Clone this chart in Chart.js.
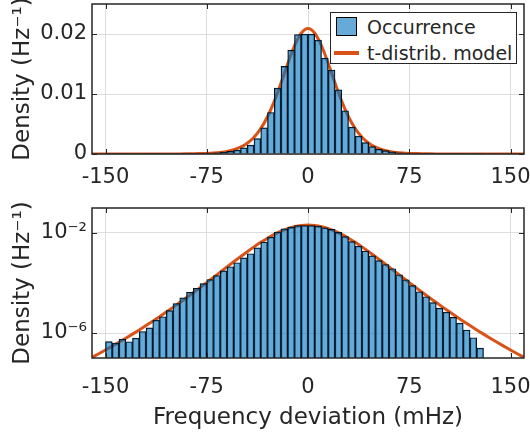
<!DOCTYPE html>
<html>
<head>
<meta charset="utf-8">
<script src="https://cdn.jsdelivr.net/npm/chart.js@4.4.1/dist/chart.umd.min.js"></script>
<style>
  body { margin: 0; background: #fff; width: 530px; height: 435px; position: relative; overflow: hidden; font-family: "DejaVu Sans"; }
  canvas { position: absolute; left: 0; }
  #topChart { top: 0; }
  #botChart { top: 195px; }
  #legend { position: absolute; left: 330px; top: 12px; width: 187px; height: 52px; box-sizing: border-box;
            border: 1px solid #262626; background: #fff; font: 19px "DejaVu Sans"; color: #262626; }
  #legend .patch { position: absolute; left: 5px; top: 4px; width: 21px; height: 19px; box-sizing: border-box;
                   background: rgba(0,114,189,0.6); border: 1px solid #000; }
  #legend .swatch { position: absolute; left: 3px; top: 38px; width: 25px; height: 3.5px; background: #d95319; }
  #legend span { position: absolute; left: 36px; line-height: 22px; white-space: nowrap; }
</style>
</head>
<body>
<canvas id="topChart" width="530" height="195"></canvas>
<canvas id="botChart" width="530" height="240"></canvas>
<div id="legend">
  <div class="patch"></div><span style="top:3px">Occurrence</span>
  <div class="swatch"></div><span style="top:29px">t-distrib. model</span>
</div>
<script>
// histogram bins (mHz, bin centres, 5 mHz wide)
const binCenters = [-147.5, -142.5, -137.5, -132.5, -127.5, -122.5, -117.5, -112.5, -107.5, -102.5,
  -97.5, -92.5, -87.5, -82.5, -77.5, -72.5, -67.5, -62.5, -57.5, -52.5,
  -47.5, -42.5, -37.5, -32.5, -27.5, -22.5, -17.5, -12.5, -7.5, -2.5,
  2.5, 7.5, 12.5, 17.5, 22.5, 27.5, 32.5, 37.5, 42.5, 47.5,
  52.5, 57.5, 62.5, 67.5, 72.5, 77.5, 82.5, 87.5, 92.5, 97.5,
  102.5, 107.5, 112.5, 117.5, 122.5, 127.5];
// density (Hz^-1)
const occurrence = [4.57e-7, 3.98e-7, 5.75e-7, 4.47e-7, 6.31e-7, 1.15e-6, 1.62e-6, 3.31e-6, 4.47e-6, 7.94e-6,
  1.51e-5, 2.57e-5, 4.27e-5, 6.17e-5, 9.55e-5, 1.38e-4, 2.00e-4, 3.09e-4, 4.47e-4, 6.46e-4,
  1.02e-3, 1.48e-3, 2.57e-3, 4.37e-3, 6.92e-3, 0.0110, 0.0146, 0.0173, 0.0199, 0.0200,
  0.0200, 0.0190, 0.0160, 0.0140, 0.0107, 0.0072, 0.0045, 0.0030, 1.91e-3, 1.23e-3,
  7.94e-4, 5.50e-4, 3.72e-4, 2.14e-4, 1.35e-4, 7.94e-5, 4.47e-5, 2.82e-5, 1.66e-5, 1.00e-5,
  6.92e-6, 4.27e-6, 2.51e-6, 1.32e-6, 6.46e-7, 2.51e-7];

// t-distribution model curve
const modelX = [-160, -155, -150, -145, -140, -135, -130, -125, -120, -115, -110, -105, -100, -95, -90, -85,
  -80, -75, -70, -65, -60, -55, -50, -45, -40, -35, -30, -25, -20, -15, -10, -5, 0,
  5, 10, 15, 20, 25, 30, 35, 40, 45, 50, 55, 60, 65, 70, 75, 80,
  85, 90, 95, 100, 105, 110, 115, 120, 125, 130, 135, 140, 145, 150, 155, 160];
const modelY = [1.06e-7, 1.48e-7, 2.09e-7, 2.98e-7, 4.28e-7, 6.19e-7, 9.03e-7, 1.33e-6, 1.98e-6, 2.97e-6,
  4.49e-6, 6.86e-6, 1.06e-5, 1.65e-5, 2.58e-5, 4.09e-5, 6.52e-5, 1.04e-4, 1.68e-4, 2.72e-4,
  4.40e-4, 7.08e-4, 1.13e-3, 1.79e-3, 2.79e-3, 4.23e-3, 6.21e-3, 8.78e-3, 1.184e-2, 1.507e-2,
  1.804e-2, 2.013e-2, 2.09e-2,
  2.013e-2, 1.804e-2, 1.507e-2, 1.184e-2, 8.78e-3, 6.21e-3, 4.23e-3, 2.79e-3, 1.79e-3, 1.13e-3,
  7.08e-4, 4.40e-4, 2.72e-4, 1.68e-4, 1.04e-4, 6.52e-5, 4.09e-5, 2.58e-5, 1.65e-5, 1.06e-5,
  6.86e-6, 4.49e-6, 2.97e-6, 1.98e-6, 1.33e-6, 9.03e-7, 6.19e-7, 4.28e-7, 2.98e-7, 2.09e-7,
  1.48e-7, 1.06e-7];

const xTicks = [-150, -75, 0, 75, 150];
const linTicks = [0, 0.01, 0.02];
const linTickLabels = ['0', '0.01', '0.02'];
const logTicks = [1e-6, 1e-2];
const logTickLabels = ['10\u207B\u2076', '10\u207B\u00B2'];

const ink = '#262626';
const gridCol = '#dedede';
const font = 'DejaVu Sans';

// box + inward tick marks, matlab style
const framePlugin = {
  id: 'frame',
  afterDraw(chart) {
    const { ctx, chartArea: a, scales } = chart;
    ctx.save();
    ctx.strokeStyle = ink;
    ctx.lineWidth = 1;
    ctx.beginPath();
    scales.x.ticks.forEach(t => {
      const px = Math.round(scales.x.getPixelForValue(t.value)) + 0.5;
      ctx.moveTo(px, a.bottom); ctx.lineTo(px, a.bottom - 5);
      ctx.moveTo(px, a.top); ctx.lineTo(px, a.top + 5);
    });
    scales.y.ticks.forEach(t => {
      const py = Math.round(scales.y.getPixelForValue(t.value)) + 0.5;
      ctx.moveTo(a.left, py); ctx.lineTo(a.left + 5, py);
      ctx.moveTo(a.right, py); ctx.lineTo(a.right - 5, py);
    });
    ctx.stroke();
    ctx.lineWidth = 1.5;
    ctx.strokeRect(a.left, a.top, a.right - a.left, a.bottom - a.top);
    ctx.restore();
  }
};

function makeChart(id, yOpts, padTop, xHeight, xPad, showXTitle) {
  return new Chart(document.getElementById(id), {
    type: 'bar',
    data: {
      datasets: [{
        type: 'bar',
        label: 'Occurrence',
        data: binCenters.map((x, i) => ({ x: x, y: occurrence[i] })),
        backgroundColor: 'rgba(0,114,189,0.6)',
        borderColor: '#000',
        borderWidth: 0.8,
        borderSkipped: 'start',
        barPercentage: 1,
        categoryPercentage: 1,
        order: 1
      }, {
        type: 'line',
        label: 't-distrib. model',
        data: modelX.map((x, i) => ({ x: x, y: modelY[i] })),
        borderColor: '#d95319',
        borderWidth: 3,
        pointRadius: 0,
        cubicInterpolationMode: 'monotone',
        fill: false,
        order: 2
      }]
    },
    options: {
      responsive: false,
      animation: false,
      devicePixelRatio: 1,
      layout: { padding: { top: padTop, right: 6, left: 0, bottom: 0 } },
      scales: {
        x: {
          type: 'linear',
          min: -160,
          max: 160,
          offset: false,
          afterBuildTicks: s => { s.ticks = xTicks.map(v => ({ value: v })); },
          afterFit: s => { s.height = xHeight; s.paddingLeft = 0; s.paddingRight = 0; },
          grid: { color: gridCol, drawTicks: false, offset: false },
          border: { display: false },
          ticks: { color: ink, padding: xPad, font: { family: font, size: 21 }, maxRotation: 0 },
          title: {
            display: showXTitle,
            text: 'Frequency deviation (mHz)',
            color: ink,
            font: { family: font, size: 23 },
            padding: { top: 0, bottom: 3 }
          }
        },
        y: Object.assign({
          afterFit: s => { s.width = 92; s.paddingTop = 0; s.paddingBottom = 0; },
          grid: { color: gridCol, drawTicks: false },
          border: { display: false },
          title: {
            display: true,
            text: 'Density (Hz\u207B\u00B9)',
            color: ink,
            font: { family: font, size: 23 },
            padding: { top: 9, bottom: 0 }
          }
        }, yOpts)
      },
      plugins: {
        legend: { display: false },
        tooltip: { enabled: false }
      }
    },
    plugins: [framePlugin]
  });
}

makeChart('topChart', {
  type: 'linear',
  min: 0,
  max: 0.025,
  afterBuildTicks: s => { s.ticks = linTicks.map(v => ({ value: v })); },
  ticks: {
    color: ink, padding: 5, font: { family: font, size: 21 },
    callback: (v, i) => linTickLabels[i]
  }
}, 4, 41, 11, false);

makeChart('botChart', {
  type: 'logarithmic',
  min: 1e-7,
  max: 1e-1,
  afterBuildTicks: s => { s.ticks = logTicks.map(v => ({ value: v })); },
  ticks: {
    color: ink, padding: 5, font: { family: font, size: 21 },
    callback: (v, i) => logTickLabels[i]
  }
}, 13, 77, 17, true);
</script>
</body>
</html>
